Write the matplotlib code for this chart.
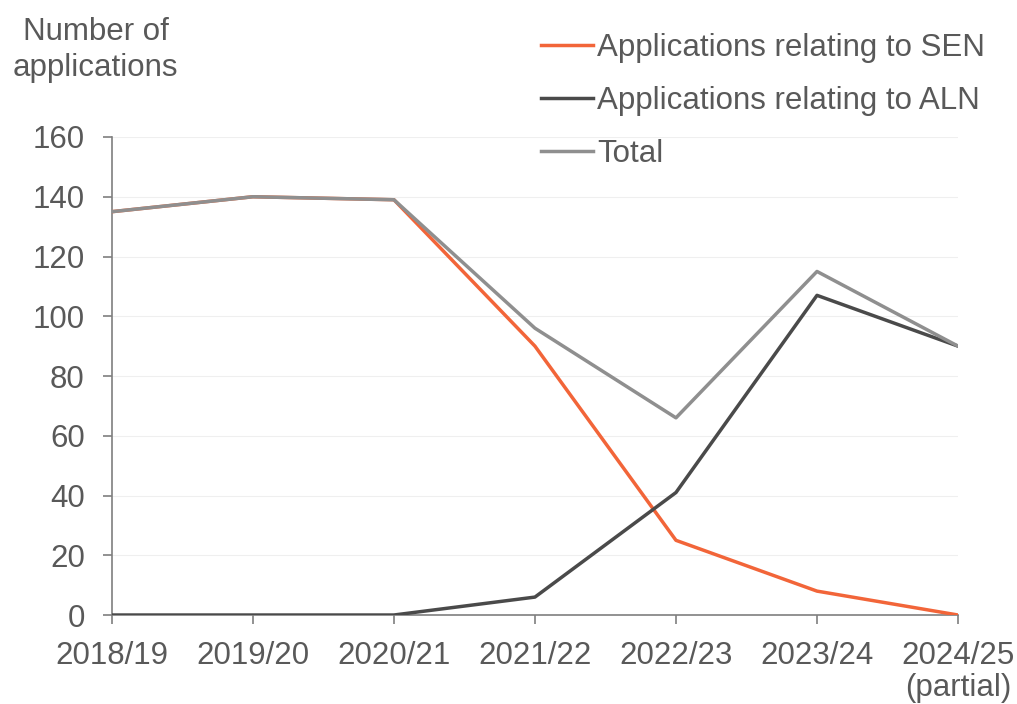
import matplotlib.pyplot as plt
import numpy as np

plt.rcParams["font.family"] = ["Liberation Sans", "DejaVu Sans"]

years = ['2018/19', '2019/20', '2020/21', '2021/22', '2022/23', '2023/24', '2024/25\n(partial)']
sen = [135, 140, 139, 90, 25, 8, 0]
aln = [0, 0, 0, 6, 41, 107, 90]
total = [135, 140, 139, 96, 66, 115, 90]

text_col = '#595959'
axis_col = '#7f7f7f'
fs = 22.5

fig = plt.figure(figsize=(10.17, 7.04), dpi=100)
ax = fig.add_axes([0.110, 0.1264, 0.832, 0.679])

x = np.arange(len(years))
ax.plot(x, sen, color='#f26539', lw=2.5, label='Applications relating to SEN', zorder=3)
ax.plot(x, aln, color='#4a4a4a', lw=2.5, label='Applications relating to ALN', zorder=4)
ax.plot(x, total, color='#8f8f8f', lw=2.5, label='Total', zorder=5)

ax.set_xlim(0, len(years) - 1)
ax.set_ylim(0, 160)
ax.set_yticks(np.arange(0, 161, 20))
ax.set_xticks(x)
ax.set_xticklabels(years, linespacing=1.1)
ax.yaxis.grid(True, color='#efefef', lw=0.8)
ax.set_axisbelow(True)

for side in ['top', 'right']:
    ax.spines[side].set_visible(False)
for side in ['left', 'bottom']:
    ax.spines[side].set_color(axis_col)
    ax.spines[side].set_linewidth(1.2)
ax.spines['bottom'].set_zorder(2)
ax.tick_params(axis='both', direction='out', length=6.5, width=1.2, color=axis_col,
               labelsize=fs, labelcolor=text_col)
ax.tick_params(axis='y', pad=13)
ax.tick_params(axis='x', pad=12)

fig.text(0.094, 0.976, 'Number of\napplications', ha='center', va='top',
         fontsize=fs, color=text_col, linespacing=1.27)

leg = fig.legend(loc='upper left', bbox_to_anchor=(0.532, 0.953), frameon=False,
                 fontsize=fs, handlelength=1.65, handletextpad=0.15, labelspacing=0.73,
                 borderpad=0, borderaxespad=0)
for t in leg.get_texts():
    t.set_color(text_col)

fig.savefig('out.png', dpi=100)
